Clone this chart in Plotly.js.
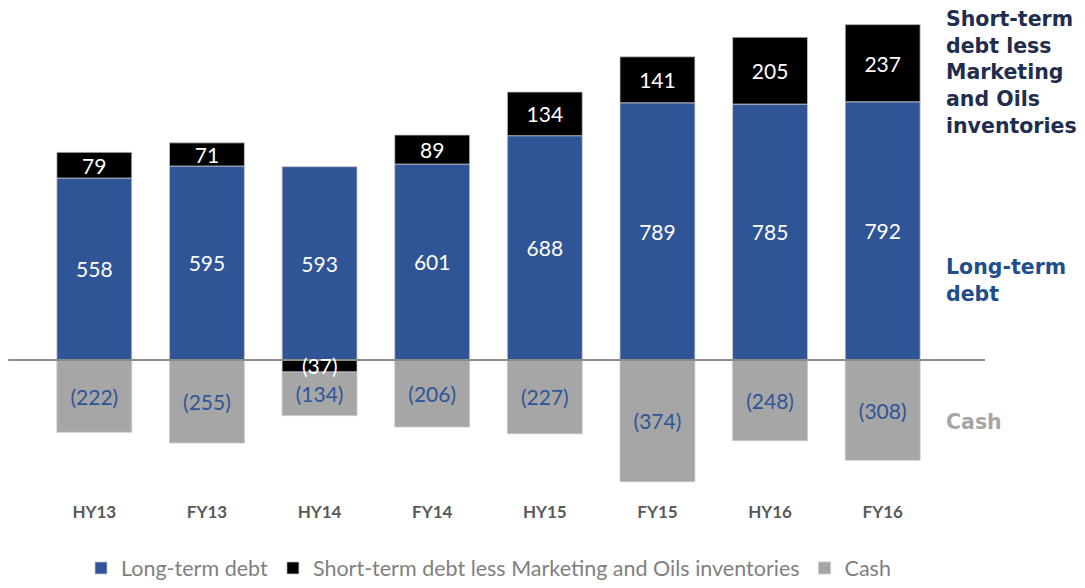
<!DOCTYPE html>
<html>
<head>
<meta charset="utf-8">
<script src="https://cdn.plot.ly/plotly-3.0.1.min.js"></script>
<style>html,body{margin:0;padding:0;background:#fff;}#chart{width:1085px;height:588px;}</style>
</head>
<body>
<div id="chart"></div>
<script>
const categories = ["HY13","FY13","HY14","FY14","HY15","FY15","HY16","FY16"];
const longTermDebt = [558, 595, 593, 601, 688, 789, 785, 792];
const shortTermDebt = [79, 71, -37, 89, 134, 141, 205, 237];
const cash = [-222, -255, -134, -206, -227, -374, -248, -308];

const fmt = v => v < 0 ? "(" + Math.abs(v) + ")" : String(v);

const valueFont = "Lato, 'Open Sans', sans-serif";
const lineStyle = {color: "#c8c8c8", width: 0.75};
const valueSize = 21;

const traces = [
  {
    type: "bar", name: "Long-term debt", x: categories, y: longTermDebt,
    marker: {color: "#2f5597", line: lineStyle},
    text: longTermDebt.map(fmt), textposition: "inside", insidetextanchor: "middle",
    textangle: 0, textfont: {color: "#ffffff", size: valueSize, family: valueFont},
    hoverinfo: "skip"
  },
  {
    type: "bar", name: "Short-term debt less Marketing and Oils inventories", x: categories, y: shortTermDebt,
    marker: {color: "#000000", line: lineStyle},
    text: shortTermDebt.map(v => v < 0 ? "" : fmt(v)), textposition: "inside", insidetextanchor: "middle",
    textangle: 0, textfont: {color: "#ffffff", size: valueSize, family: valueFont},
    hoverinfo: "skip"
  },
  {
    type: "bar", name: "Cash", x: categories, y: cash,
    marker: {color: "#a6a6a6", line: lineStyle},
    text: cash.map(fmt), textposition: "inside", insidetextanchor: "middle",
    textangle: 0, textfont: {color: "#2f5597", size: valueSize, family: valueFont},
    hoverinfo: "skip"
  }
];

// labels for negative short-term values (thin bars below zero): drawn on top
const negLabels = [];
shortTermDebt.forEach((v, i) => {
  if (v < 0) {
    negLabels.push({
      xref: "x", yref: "y", x: categories[i], y: v / 2, showarrow: false,
      text: fmt(v), font: {color: "#ffffff", size: valueSize, family: valueFont},
      xanchor: "center", yanchor: "middle"
    });
  }
});

const annFont = "'DejaVu Sans', Verdana, sans-serif";
const layout = {
  width: 1085, height: 588,
  margin: {l: 38, r: 146, t: 21, b: 88, autoexpand: false},
  paper_bgcolor: "#ffffff", plot_bgcolor: "#ffffff",
  barmode: "relative", bargap: 0.335,
  uniformtext: {mode: "show", minsize: valueSize},
  showlegend: true,
  legend: {
    orientation: "h", x: 0.5, xanchor: "center",
    yref: "container", y: 0.034, yanchor: "middle",
    font: {family: valueFont, size: 21.5, color: "#7f7f7f"},
    traceorder: "normal", itemclick: false, itemwidth: 30
  },
  xaxis: {
    type: "category", range: [-0.5, 7.5],
    showgrid: false, zeroline: false, showline: false, ticks: "",
    tickfont: {family: valueFont, size: 17, color: "#595959", weight: "bold"}
  },
  yaxis: {
    range: [-430, 1040], showgrid: false, zeroline: false, showline: false,
    showticklabels: false, ticks: ""
  },
  shapes: [
    {type: "line", xref: "paper", yref: "y", x0: -0.033, x1: 1.051, y0: 0, y1: 0,
     line: {color: "#8c8c8c", width: 2}, layer: "above"}
  ],
  annotations: negLabels.concat([
    {xref: "paper", yref: "y", x: 1.006, y: 883, xanchor: "left", yanchor: "middle", align: "left",
     showarrow: false, text: "<b>Short-term<br>debt less<br>Marketing<br>and Oils<br>inventories</b>",
     font: {family: annFont, size: 20.5, color: "#1f2d4e"}},
    {xref: "paper", yref: "y", x: 1.006, y: 245, xanchor: "left", yanchor: "middle", align: "left",
     showarrow: false, text: "<b>Long-term<br>debt</b>",
     font: {family: annFont, size: 20.5, color: "#1f4e8c"}},
    {xref: "paper", yref: "y", x: 1.006, y: -190, xanchor: "left", yanchor: "middle", align: "left",
     showarrow: false, text: "<b>Cash</b>",
     font: {family: annFont, size: 20.5, color: "#a6a6a6"}}
  ])
};

Plotly.newPlot("chart", traces, layout, {displayModeBar: false, staticPlot: true});
</script>
</body>
</html>
